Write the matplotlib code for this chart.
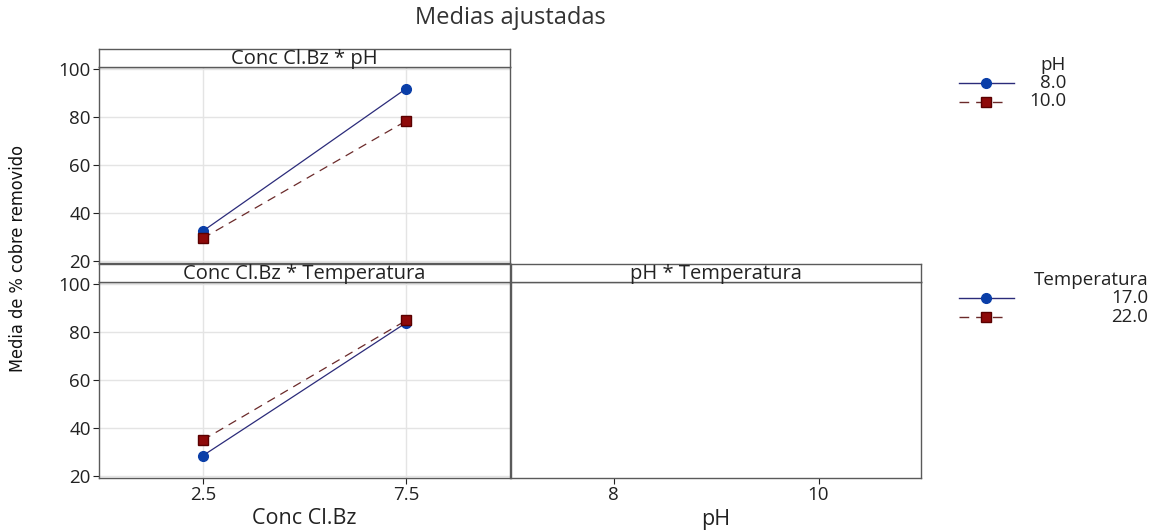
import matplotlib.pyplot as plt
from matplotlib.lines import Line2D

plt.rcParams['font.family'] = ['Open Sans', 'DejaVu Sans']

# fitted means
conc = [2.5, 7.5]
ph_levels = ["8.0", "10.0"]
ph8 = [32.5, 92.0]
ph10 = [29.5, 78.5]
temp_levels = ["17.0", "22.0"]
temp17 = [28.5, 84.0]
temp22 = [35.0, 85.0]
ph_ticks = [8, 10]

W, H = 1153, 530
BLUE_M = "#0a3ea8"
BLUE_L = "#2b2b7a"
RED_M = "#8e0a0a"
RED_L = "#6b2a2a"
EDGE = "#5a5a5a"
GRID = "#e4e4e4"
TXT = "#222222"

fig = plt.figure(figsize=(W / 100, H / 100), dpi=100)


def box(x0, y0, x1, y1):
    # pixel box (from top-left) -> figure fraction rect
    return [x0 / W, 1 - y1 / H, (x1 - x0) / W, (y1 - y0) / H]


def strip(x0, y0, x1, y1, label):
    s = fig.add_axes(box(x0, y0, x1, y1))
    s.set_xticks([])
    s.set_yticks([])
    for sp in s.spines.values():
        sp.set_color(EDGE)
        sp.set_linewidth(1.0)
    s.text(0.5, 0.42, label, ha="center", va="center", fontsize=14.5, color=TXT,
           transform=s.transAxes)
    return s


def panel(x0, y0, x1, y1, xlim):
    a = fig.add_axes(box(x0, y0, x1, y1))
    a.set_xlim(*xlim)
    a.set_ylim(19.2, 101)
    for sp in a.spines.values():
        sp.set_color(EDGE)
        sp.set_linewidth(1.0)
    a.tick_params(colors=TXT, labelsize=13.5, length=4, width=0.8, pad=2)
    return a


def series(a, y1, y2):
    a.plot(conc, y1, color=BLUE_L, lw=0.9, marker="o", ms=7,
           mfc=BLUE_M, mec=BLUE_M, zorder=3)
    a.plot(conc, y2, color=RED_L, lw=0.9, ls=(0, (7, 5)), marker="s", ms=7,
           mfc=RED_M, mec="#5a0000", zorder=3)


# top-left: Conc Cl.Bz * pH
ax1 = panel(99, 67, 510, 263, (-0.05, 10.05))
strip(99, 49, 510, 67, "Conc Cl.Bz * pH")
ax1.set_xticks(conc)
ax1.tick_params(axis="x", labelbottom=False, length=0)
ax1.set_yticks([20, 40, 60, 80, 100])
ax1.grid(True, color=GRID, lw=1.0)
ax1.set_axisbelow(True)
series(ax1, ph8, ph10)

# bottom-left: Conc Cl.Bz * Temperatura
ax2 = panel(99, 282, 510, 478, (-0.05, 10.05))
strip(99, 264, 510, 282, "Conc Cl.Bz * Temperatura")
ax2.set_xticks(conc)
ax2.set_xticklabels(["2.5", "7.5"])
ax2.set_yticks([20, 40, 60, 80, 100])
ax2.grid(True, color=GRID, lw=1.0)
ax2.set_axisbelow(True)
series(ax2, temp17, temp22)
ax2.set_xlabel("Conc Cl.Bz", fontsize=15.5, color=TXT, labelpad=3)

# bottom-right: pH * Temperatura (empty)
ax3 = panel(511, 282, 921, 478, (7.0, 11.0))
strip(511, 264, 921, 282, "pH * Temperatura")
ax3.set_xticks(ph_ticks)
ax3.set_yticks([])
ax3.set_xlabel("pH", fontsize=15.5, color=TXT, labelpad=3)

fig.text(510 / W, 1 - 18 / H, "Medias ajustadas", ha="center", va="center",
         fontsize=17, color="#333333")
fig.text(18 / W, 1 - 258 / H, "Media de % cobre removido", rotation=90,
         ha="center", va="center", fontsize=13, color="#111111",
         family="DejaVu Sans", fontstretch="condensed")


def legend(title, labels, x_right, y_title):
    fig.text(x_right / W, 1 - y_title / H, title, ha="right", va="center",
             fontsize=13.5, color=TXT)
    styles = [
        dict(color=BLUE_L, ls="-", marker="o", mfc=BLUE_M, mec=BLUE_M, xs=(959, 1014)),
        dict(color=RED_L, ls=(0, (7, 5)), marker="s", mfc=RED_M, mec="#5a0000", xs=(959, 1003)),
    ]
    for i, (lab, st) in enumerate(zip(labels, styles)):
        yy = 1 - (y_title + 18 + 18.5 * i) / H
        x0, x1 = st["xs"]
        fig.add_artist(Line2D([x0 / W, x1 / W], [yy, yy], color=st["color"],
                              ls=st["ls"], lw=1.0, transform=fig.transFigure))
        fig.add_artist(Line2D([986 / W], [yy], marker=st["marker"], ms=7,
                              mfc=st["mfc"], mec=st["mec"], ls="none",
                              transform=fig.transFigure))
        fig.text(x_right / W, yy, lab, ha="right", va="center", fontsize=13.5,
                 color=TXT)


legend("pH", ph_levels, 1066, 65)
legend("Temperatura", temp_levels, 1148, 280)

fig.savefig("out.png", dpi=100)
